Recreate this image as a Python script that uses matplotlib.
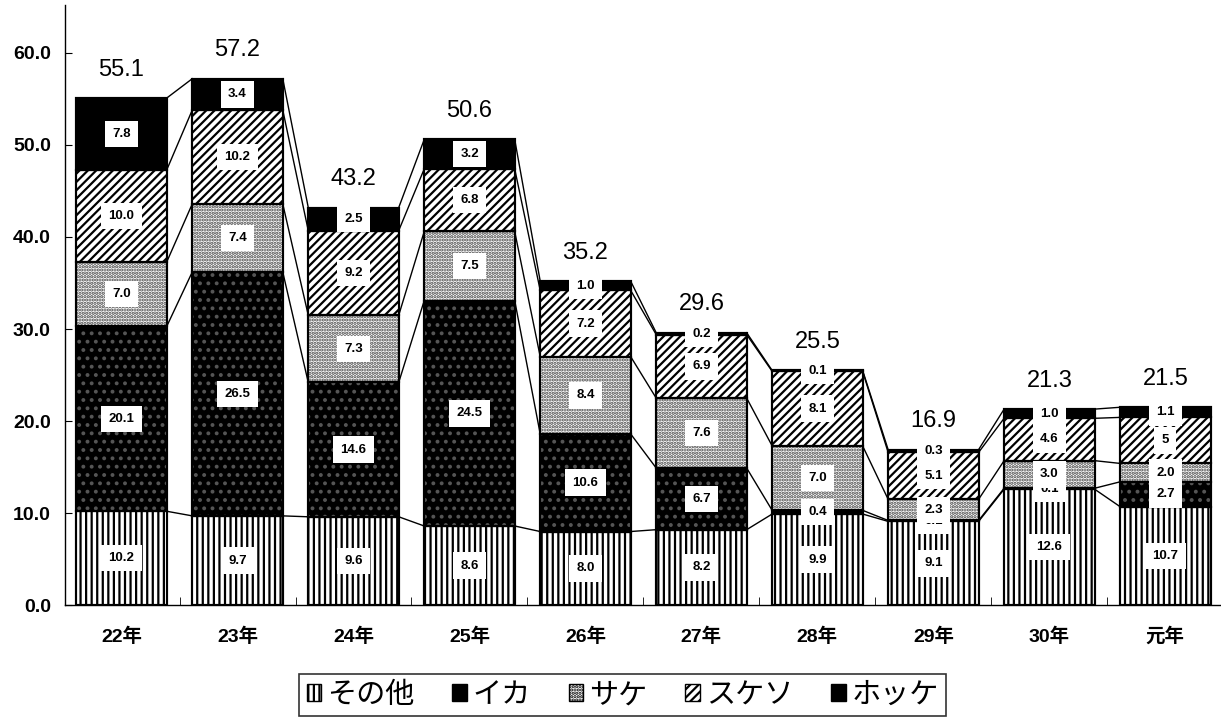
import matplotlib
matplotlib.use("Agg")
import matplotlib.pyplot as plt
import numpy as np
from matplotlib.patches import Patch

plt.rcParams['font.family'] = ['Liberation Sans', 'Noto Sans CJK JP', 'DejaVu Sans']
plt.rcParams['hatch.linewidth'] = 1.6

categories = ['22年', '23年', '24年', '25年', '26年', '27年', '28年', '29年', '30年', '元年']
series_names = ['その他', 'イカ', 'サケ', 'スケソ', 'ホッケ']
sonota = [10.2, 9.7, 9.6, 8.6, 8.0, 8.2, 9.9, 9.1, 12.6, 10.7]
ika = [20.1, 26.5, 14.6, 24.5, 10.6, 6.7, 0.4, 0.1, 0.1, 2.7]
sake = [7.0, 7.4, 7.3, 7.5, 8.4, 7.6, 7.0, 2.3, 3.0, 2.0]
sukeso = [10.0, 10.2, 9.2, 6.8, 7.2, 6.9, 8.1, 5.1, 4.6, 5.0]
hokke = [7.8, 3.4, 2.5, 3.2, 1.0, 0.2, 0.1, 0.3, 1.0, 1.1]
totals = [55.1, 57.2, 43.2, 50.6, 35.2, 29.6, 25.5, 16.9, 21.3, 21.5]
label_text = {
    'スケソ': ['10.0', '10.2', '9.2', '6.8', '7.2', '6.9', '8.1', '5.1', '4.6', '5'],
}

data = [sonota, ika, sake, sukeso, hokke]
styles = [
    dict(face='white', hatch='|||', hcolor='black'),
    dict(face='black', hatch='..', hcolor='#555555'),
    dict(face='white', hatch='.....', hcolor='#444444'),
    dict(face='white', hatch='////', hcolor='black'),
    dict(face='black', hatch=None, hcolor='black'),
]

fig = plt.figure(figsize=(12.21, 7.23), dpi=100)
ax = fig.add_axes([0.053, 0.163, 0.947, 0.83])

x = np.arange(len(categories))
w = 0.78
bottom = np.zeros(len(categories))
cum_tops = []
for name, vals, st in zip(series_names, data, styles):
    vals = np.array(vals)
    ax.bar(x, vals, w, bottom=bottom, color=st['face'], edgecolor='black',
           linewidth=1.5, zorder=2)
    if st['hatch']:
        ax.bar(x, vals, w, bottom=bottom, color='none', edgecolor=st['hcolor'],
               hatch=st['hatch'], linewidth=0, zorder=2.5)
    ax.bar(x, vals, w, bottom=bottom, color='none', edgecolor='black',
           linewidth=1.5, zorder=3)
    texts = label_text.get(name, [f'{v:.1f}' for v in vals])
    for i in range(len(x)):
        ax.text(x[i], bottom[i] + vals[i] / 2, texts[i], ha='center', va='center',
                fontsize=9.5, fontweight='bold', zorder=5,
                bbox=dict(boxstyle='square,pad=0.55', fc='white', ec='none'))
    bottom = bottom + vals
    cum_tops.append(bottom.copy())

for tops in cum_tops:
    for i in range(len(x) - 1):
        ax.plot([x[i] + w / 2, x[i + 1] - w / 2], [tops[i], tops[i + 1]],
                color='black', linewidth=1.0, zorder=1)

for i, t in enumerate(totals):
    ax.text(x[i], t + 1.9, f'{t:.1f}', ha='center', va='bottom', fontsize=17)

ax.set_xlim(-0.49, 9.48)
ax.set_ylim(0, 65.2)
ax.set_yticks(np.arange(0, 61, 10))
ax.set_yticklabels([f'{v:.1f}' for v in np.arange(0, 61, 10)], fontsize=14, fontweight='bold')
ax.set_xticks(x)
ax.set_xticklabels(categories, fontsize=14, fontweight='bold')
ax.set_xticks(x[:-1] + 0.5, minor=True)
ax.tick_params(axis='x', which='major', length=0, pad=16)
ax.tick_params(axis='x', which='minor', length=6, direction='in')
ax.tick_params(axis='y', which='major', length=5, direction='in', pad=10)
for s in ['top', 'right']:
    ax.spines[s].set_visible(False)
ax.spines['left'].set_linewidth(1.0)
ax.spines['bottom'].set_linewidth(1.0)

handles = []
for name, st in zip(series_names, styles):
    handles.append(Patch(facecolor=st['face'], edgecolor='black',
                         hatch=st['hatch'], linewidth=1.0))
leg = fig.legend(handles, series_names, loc='center', bbox_to_anchor=(0.510, 0.0385),
                 ncol=5, fontsize=21, frameon=True, fancybox=False, edgecolor='black',
                 handlelength=0.5, handleheight=0.5, handletextpad=0.2,
                 columnspacing=1.3, borderpad=0.25, borderaxespad=0.0)
leg.get_frame().set_linewidth(1.2)

fig.savefig('out.png', dpi=100)
